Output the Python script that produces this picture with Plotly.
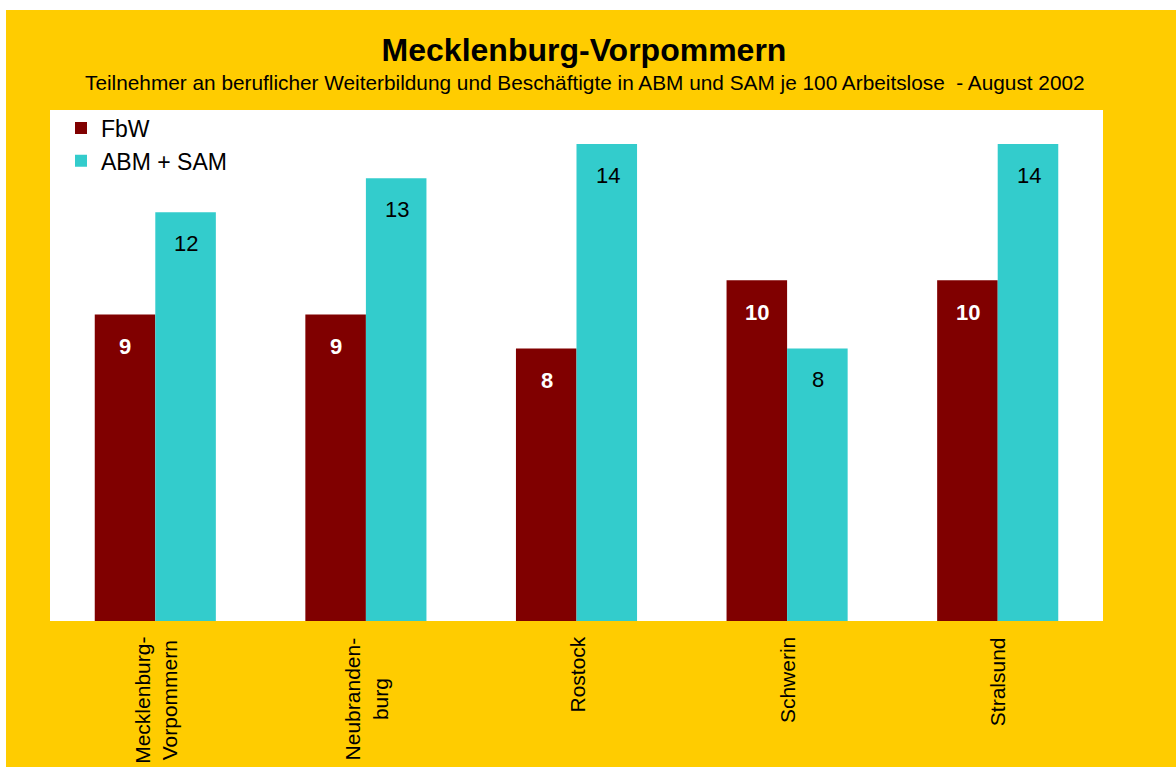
import plotly.graph_objects as go

categories = ["Mecklenburg-<br>Vorpommern", "Neubranden-<br>burg", "Rostock", "Schwerin", "Stralsund"]
fbw = [9, 9, 8, 10, 10]
abm_sam = [12, 13, 14, 8, 14]
series_names = ["FbW", "ABM + SAM"]

RED = "#800000"
CYAN = "#33CCCC"
YELLOW = "#FFCC00"
FONT = "Liberation Sans, Arial, sans-serif"

fig = go.Figure()
fig.add_trace(go.Bar(x=categories, y=fbw, name=series_names[0], marker_color=RED,
                     marker_line_width=0, hoverinfo="y+name"))
fig.add_trace(go.Bar(x=categories, y=abm_sam, name=series_names[1], marker_color=CYAN,
                     marker_line_width=0, hoverinfo="y+name"))

annotations = []
for c, v in zip(categories, fbw):
    annotations.append(dict(x=c, y=v, xref="x", yref="y", text=f"<b>{v}</b>", showarrow=False,
                            xshift=-30, yshift=-32, font=dict(family=FONT, size=22, color="white")))
for c, v in zip(categories, abm_sam):
    annotations.append(dict(x=c, y=v, xref="x", yref="y", text=str(v), showarrow=False,
                            xshift=31, yshift=-31, font=dict(family=FONT, size=22, color="black")))
# category labels (rotated, lines centred like the original)
for c in categories:
    annotations.append(dict(x=c, y=0, xref="x", yref="paper", text=c, showarrow=False,
                            textangle=-90, align="center", xanchor="center", yanchor="top",
                            yshift=-14, font=dict(family=FONT, size=21, color="black")))

annotations.append(dict(
    text="Teilnehmer an beruflicher Weiterbildung und Beschäftigte in ABM und SAM je 100 Arbeitslose  - August 2002",
    xref="paper", yref="paper", x=(585 - 50) / 1053, y=(621 - 82) / 511, xanchor="center", yanchor="middle",
    showarrow=False, font=dict(family=FONT, size=20.8, color="black")))

shapes = [
    dict(type="rect", xref="paper", yref="paper", x0=-0.1, x1=1.2, y0=(621 - 10) / 511, y1=1.3,
         fillcolor="white", line_width=0, layer="below"),
    dict(type="rect", xref="paper", yref="paper", x0=-0.1, x1=(6 - 50) / 1053, y0=-0.5, y1=1.3,
         fillcolor="white", line_width=0, layer="below"),
]

fig.update_layout(
    width=1176, height=767,
    paper_bgcolor=YELLOW, plot_bgcolor="white",
    margin=dict(l=50, r=73, t=110, b=146, pad=0, autoexpand=False),
    title=dict(text="<b>Mecklenburg-Vorpommern</b>", x=584 / 1176, xanchor="center",
               y=1 - 50 / 767, yanchor="middle", font=dict(family=FONT, size=32, color="black")),
    barmode="group", bargap=0.425, bargroupgap=0,
    showlegend=True,
    legend=dict(x=(61 - 50) / 1053, y=(621 - 106.5) / 511, xanchor="left", yanchor="top",
                bgcolor="rgba(0,0,0,0)", font=dict(family=FONT, size=23, color="black"),
                tracegroupgap=0, itemsizing="constant"),
    xaxis=dict(type="category", showticklabels=False, showgrid=False, showline=False, zeroline=False,
               ticks="", automargin=False, fixedrange=True),
    yaxis=dict(range=[0, 15], showticklabels=False, showgrid=False, zeroline=False,
               showline=False, ticks="", fixedrange=True, automargin=False),
    annotations=annotations,
    shapes=shapes,
    font=dict(family=FONT),
)

fig.write_html("out.html", config={"displayModeBar": False},
               post_script="document.body.style.margin='0px';document.body.style.padding='0px';")
